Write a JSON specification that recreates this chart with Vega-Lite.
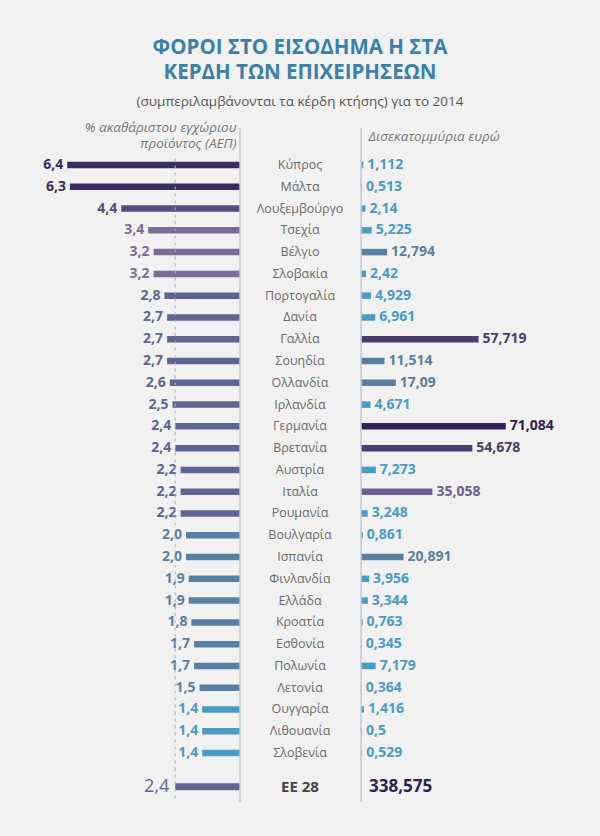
{
  "$schema": "https://vega.github.io/schema/vega-lite/v6.json",
  "width": 600,
  "height": 674,
  "padding": {"left": 0, "right": 0, "top": 38, "bottom": 43},
  "background": "#f1f1f1",
  "title": {
    "text": ["ΦΟΡΟΙ ΣΤΟ ΕΙΣΟΔΗΜΑ Η ΣΤΑ", "ΚΕΡΔΗ ΤΩΝ ΕΠΙΧΕΙΡΗΣΕΩΝ"],
    "subtitle": "(συμπεριλαμβάνονται τα κέρδη κτήσης) για το 2014",
    "anchor": "middle",
    "frame": "group",
    "font": "Open Sans",
    "fontSize": 20.5,
    "lineHeight": 25,
    "fontWeight": "bold",
    "color": "#3b80a8",
    "subtitleFont": "Open Sans",
    "subtitleFontSize": 13.5,
    "subtitleColor": "#555555",
    "subtitlePadding": 11,
    "offset": 12
  },
  "datasets": {
    "countries": [
      {"name": "Κύπρος", "pct": 6.4, "bn": 1.112},
      {"name": "Μάλτα", "pct": 6.3, "bn": 0.513},
      {"name": "Λουξεμβούργο", "pct": 4.4, "bn": 2.14},
      {"name": "Τσεχία", "pct": 3.4, "bn": 5.225},
      {"name": "Βέλγιο", "pct": 3.2, "bn": 12.794},
      {"name": "Σλοβακία", "pct": 3.2, "bn": 2.42},
      {"name": "Πορτογαλία", "pct": 2.8, "bn": 4.929},
      {"name": "Δανία", "pct": 2.7, "bn": 6.961},
      {"name": "Γαλλία", "pct": 2.7, "bn": 57.719},
      {"name": "Σουηδία", "pct": 2.7, "bn": 11.514},
      {"name": "Ολλανδία", "pct": 2.6, "bn": 17.09},
      {"name": "Ιρλανδία", "pct": 2.5, "bn": 4.671},
      {"name": "Γερμανία", "pct": 2.4, "bn": 71.084},
      {"name": "Βρετανία", "pct": 2.4, "bn": 54.678},
      {"name": "Αυστρία", "pct": 2.2, "bn": 7.273},
      {"name": "Ιταλία", "pct": 2.2, "bn": 35.058},
      {"name": "Ρουμανία", "pct": 2.2, "bn": 3.248},
      {"name": "Βουλγαρία", "pct": 2.0, "bn": 0.861},
      {"name": "Ισπανία", "pct": 2.0, "bn": 20.891},
      {"name": "Φινλανδία", "pct": 1.9, "bn": 3.956},
      {"name": "Ελλάδα", "pct": 1.9, "bn": 3.344},
      {"name": "Κροατία", "pct": 1.8, "bn": 0.763},
      {"name": "Εσθονία", "pct": 1.7, "bn": 0.345},
      {"name": "Πολωνία", "pct": 1.7, "bn": 7.179},
      {"name": "Λετονία", "pct": 1.5, "bn": 0.364},
      {"name": "Ουγγαρία", "pct": 1.4, "bn": 1.416},
      {"name": "Λιθουανία", "pct": 1.4, "bn": 0.5},
      {"name": "Σλοβενία", "pct": 1.4, "bn": 0.529}
    ],
    "eu": [
      {"name": "ΕΕ 28", "pct": 2.4, "bn": 338.575}
    ]
  },
  "layer": [
    {
      "data": {"name": "countries"},
      "mark": {"type": "bar", "size": 6.5},
      "encoding": {
        "y": {"field": "name", "type": "nominal", "axis": null, "scale": {"type": "band", "domain": ["Κύπρος", "Μάλτα", "Λουξεμβούργο", "Τσεχία", "Βέλγιο", "Σλοβακία", "Πορτογαλία", "Δανία", "Γαλλία", "Σουηδία", "Ολλανδία", "Ιρλανδία", "Γερμανία", "Βρετανία", "Αυστρία", "Ιταλία", "Ρουμανία", "Βουλγαρία", "Ισπανία", "Φινλανδία", "Ελλάδα", "Κροατία", "Εσθονία", "Πολωνία", "Λετονία", "Ουγγαρία", "Λιθουανία", "Σλοβενία", "ΕΕ 28"], "paddingInner": 0, "paddingOuter": 0.973, "align": 0.616}},
        "x": {"field": "pct", "type": "quantitative", "scale": {"domain": [-13.333, 8.889], "reverse": true, "nice": false, "zero": false},
          "axis": {"orient": "top", "domain": false, "ticks": false, "labels": false, "grid": false,
            "title": ["% ακαθάριστου εγχώριου", "προϊόντος (ΑΕΠ)"],
            "titleX": 236, "titleY": -8, "titleAlign": "right", "titleBaseline": "top", "titleAngle": 0,
            "titleFont": "Open Sans", "titleFontStyle": "italic", "titleFontWeight": "normal", "titleFontSize": 13.5, "titleLineHeight": 16.5, "titleColor": "#777777"}},
        "x2": {"datum": 0},
        "color": {"field": "pct", "type": "quantitative", "legend": null, "scale": {"type": "threshold", "domain": [1.45, 2.05, 2.95, 4, 5], "range": ["#4a9bc5", "#5a7fa5", "#5d6592", "#7b6c96", "#5b4b7d", "#3b2c5f"]}}
      }
    },
    {
      "data": {"name": "countries"},
      "mark": {"type": "text", "align": "right", "baseline": "middle", "dx": -4, "fontSize": 14, "fontWeight": "bold", "font": "Open Sans"},
      "encoding": {
        "y": {"field": "name", "type": "nominal", "axis": null},
        "x": {"field": "pct", "type": "quantitative", "axis": null, "scale": {"domain": [-13.333, 8.889], "reverse": true, "nice": false, "zero": false}},
        "text": {"field": "pct", "type": "quantitative", "format": ".1f"},
        "color": {"field": "pct", "type": "quantitative", "legend": null, "scale": {"type": "threshold", "domain": [1.45, 2.05, 2.95, 4, 5], "range": ["#4a9bc5", "#5a7fa5", "#5d6592", "#7b6c96", "#5b4b7d", "#3b2c5f"]}}
      }
    },
    {
      "data": {"name": "countries"},
      "mark": {"type": "text", "baseline": "middle", "align": "center", "fontSize": 12.5, "color": "#6b6b6b", "font": "Open Sans"},
      "encoding": {
        "y": {"field": "name", "type": "nominal", "axis": null},
        "text": {"field": "name"}
      }
    },
    {
      "data": {"name": "countries"},
      "mark": {"type": "bar", "size": 6.5},
      "encoding": {
        "y": {"field": "name", "type": "nominal", "axis": null},
        "x": {"field": "bn", "type": "quantitative", "scale": {"domain": [-177.4, 117.4], "nice": false, "zero": false},
          "axis": {"orient": "top", "domain": false, "ticks": false, "labels": false, "grid": false,
            "title": "Δισεκατομμύρια ευρώ",
            "titleX": 368, "titleY": 1, "titleAlign": "left", "titleBaseline": "top", "titleAngle": 0,
            "titleFont": "Open Sans", "titleFontStyle": "italic", "titleFontWeight": "normal", "titleFontSize": 13.5, "titleColor": "#777777"}},
        "x2": {"datum": 0},
        "color": {"field": "bn", "type": "quantitative", "legend": null, "scale": {"type": "threshold", "domain": [10, 30, 50, 65], "range": ["#4a9bc5", "#5a7fa0", "#6e5f8e", "#4b3c6d", "#2f2152"]}}
      }
    },
    {
      "data": {"name": "countries"},
      "mark": {"type": "text", "align": "left", "baseline": "middle", "dx": 4, "fontSize": 14, "fontWeight": "bold", "font": "Open Sans"},
      "encoding": {
        "y": {"field": "name", "type": "nominal", "axis": null},
        "x": {"field": "bn", "type": "quantitative", "axis": null, "scale": {"domain": [-177.4, 117.4], "nice": false, "zero": false}},
        "text": {"field": "bn", "type": "quantitative", "format": ".3~f"},
        "color": {"field": "bn", "type": "quantitative", "legend": null, "scale": {"type": "threshold", "domain": [10, 30, 50, 65], "range": ["#4a9bc5", "#5a7fa0", "#6e5f8e", "#4b3c6d", "#2f2152"]}}
      }
    },
    {
      "data": {"name": "eu"},
      "mark": {"type": "bar", "size": 7, "yOffset": 12},
      "encoding": {
        "y": {"field": "name", "type": "nominal", "axis": null},
        "x": {"field": "pct", "type": "quantitative", "axis": null, "scale": {"domain": [-13.333, 8.889], "reverse": true, "nice": false, "zero": false}},
        "x2": {"datum": 0},
        "color": {"field": "pct", "type": "quantitative", "legend": null, "scale": {"type": "threshold", "domain": [1.45, 2.05, 2.95, 4, 5], "range": ["#4a9bc5", "#5a7fa5", "#5d6592", "#7b6c96", "#5b4b7d", "#3b2c5f"]}}
      }
    },
    {
      "data": {"name": "eu"},
      "mark": {"type": "text", "align": "right", "baseline": "middle", "dx": -6, "yOffset": 12, "fontSize": 18, "fontWeight": "normal", "font": "Open Sans"},
      "encoding": {
        "y": {"field": "name", "type": "nominal", "axis": null},
        "x": {"field": "pct", "type": "quantitative", "axis": null, "scale": {"domain": [-13.333, 8.889], "reverse": true, "nice": false, "zero": false}},
        "text": {"field": "pct", "type": "quantitative", "format": ".1f"},
        "color": {"field": "pct", "type": "quantitative", "legend": null, "scale": {"type": "threshold", "domain": [1.45, 2.05, 2.95, 4, 5], "range": ["#4a9bc5", "#5a7fa5", "#5d6592", "#7b6c96", "#5b4b7d", "#3b2c5f"]}}
      }
    },
    {
      "data": {"name": "eu"},
      "mark": {"type": "text", "baseline": "middle", "align": "center", "yOffset": 12, "fontSize": 15, "fontWeight": "bold", "color": "#444444", "font": "Open Sans"},
      "encoding": {
        "y": {"field": "name", "type": "nominal", "axis": null},
        "text": {"field": "name"}
      }
    },
    {
      "data": {"name": "eu"},
      "mark": {"type": "text", "align": "left", "baseline": "middle", "dx": 8, "yOffset": 12, "fontSize": 17, "fontWeight": "bold", "font": "Open Sans"},
      "encoding": {
        "y": {"field": "name", "type": "nominal", "axis": null},
        "x": {"datum": 0, "type": "quantitative", "axis": null, "scale": {"domain": [-177.4, 117.4], "nice": false, "zero": false}},
        "text": {"field": "bn", "type": "quantitative", "format": ".3~f"},
        "color": {"field": "bn", "type": "quantitative", "legend": null, "scale": {"type": "threshold", "domain": [10, 30, 50, 65], "range": ["#4a9bc5", "#5a7fa0", "#6e5f8e", "#4b3c6d", "#2f2152"]}}
      }
    },
    {
      "data": {"name": "eu"},
      "mark": {"type": "rule", "strokeDash": [3, 4], "color": "#aab2c4", "strokeWidth": 1},
      "encoding": {
        "x": {"field": "pct", "type": "quantitative", "axis": null, "scale": {"domain": [-13.333, 8.889], "reverse": true, "nice": false, "zero": false}},
        "y": {"datum": "Κύπρος", "type": "nominal", "bandPosition": 0.2},
        "y2": {"value": "height"}
      }
    },
    {
      "data": {"name": "eu"},
      "mark": {"type": "rule", "color": "#c3c9d6", "strokeWidth": 1.5},
      "encoding": {
        "x": {"datum": 0, "type": "quantitative", "axis": null, "scale": {"domain": [-13.333, 8.889], "reverse": true, "nice": false, "zero": false}}
      }
    },
    {
      "data": {"name": "eu"},
      "mark": {"type": "rule", "color": "#c3c9d6", "strokeWidth": 1.5},
      "encoding": {
        "x": {"datum": 0, "type": "quantitative", "axis": null, "scale": {"domain": [-177.4, 117.4], "nice": false, "zero": false}}
      }
    }
  ],
  "resolve": {"scale": {"x": "independent", "color": "independent"}},
  "config": {
    "font": "Open Sans",
    "view": {"stroke": null},
    "locale": {"number": {"decimal": ",", "thousands": ".", "grouping": [3], "currency": ["", ""]}}
  }
}
